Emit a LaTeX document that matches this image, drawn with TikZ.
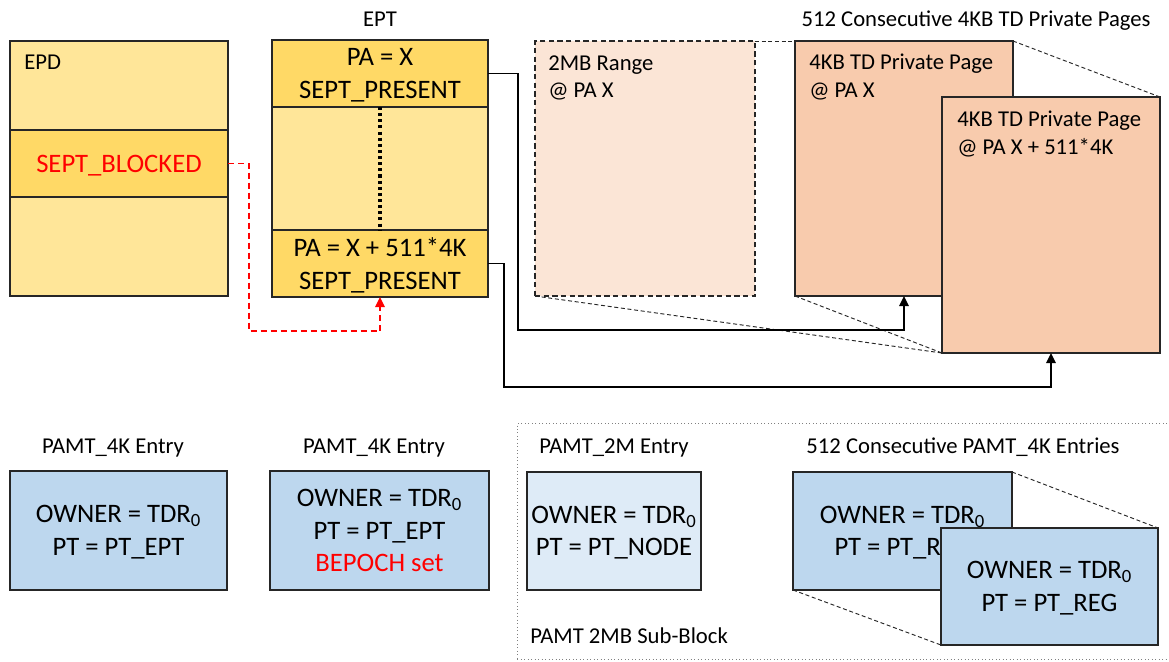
\documentclass[tikz,border=0pt]{standalone}
\usepackage{fontspec}
\setmainfont{Carlito}
\usetikzlibrary{arrows.meta}
\definecolor{ylight}{HTML}{FFE699}
\definecolor{ydark}{HTML}{FFD966}
\definecolor{pagec}{HTML}{F8CBAD}
\definecolor{rangec}{HTML}{FBE5D6}
\definecolor{bluec}{HTML}{BDD7EE}
\definecolor{bluel}{HTML}{DEEBF7}
\definecolor{edge}{HTML}{262626}
\tikzset{
  bx/.style={draw=edge, line width=1pt, inner sep=0pt, outer sep=0pt, anchor=north west},
  wh/.style 2 args={minimum width=#1*0.75pt, minimum height=#2*0.75pt},
  big/.style={font=\fontsize{20}{24.5}\selectfont, align=center, text depth=0pt},
  sm/.style={font=\fontsize{17}{20}\selectfont, inner sep=0pt},
  conn/.style={line width=1.4pt, -{Triangle[length=7.5pt,width=7pt]}},
  redconn/.style={line width=1.2pt, red, dash pattern=on 4.5pt off 3pt, -{Triangle[length=7.5pt,width=7pt]}},
  zl/.style={line width=0.7pt, dash pattern=on 3pt off 2pt, draw=edge},
  dotline/.style={line width=2.3pt, dash pattern=on 2.3pt off 2.3pt},
}
\begin{document}
\begin{tikzpicture}[x=0.75pt,y=-0.75pt]
\useasboundingbox[fill=white] (0,0) rectangle (1169,661);

% ---- EPD ----
\node[bx, fill=ylight, wh={218}{255}] (epd) at (10,41) {};
\node[bx, fill=ydark, wh={218}{67}, big, text=red] (blk) at (10,130) {SEPT\_BLOCKED};
\node[sm, anchor=base west] (epdl) at (24,69) {EPD};

% ---- EPT ----
\node[sm, anchor=base] (eptl) at (380,26) {EPT};
\node[bx, fill=ylight, wh={216}{257}] (ept) at (272,40) {};
\node[bx, fill=ydark, wh={216}{67}, big] (ept1) at (272,40) {PA = X\\SEPT\_PRESENT};
\node[bx, fill=ydark, wh={216}{67}, big] (ept2) at (272,230) {PA = X + 511*4K\\SEPT\_PRESENT};
\draw[dotline] (ept1.south) -- (ept2.north);

% ---- pages ----
\node[sm, anchor=base] (pgl) at (976,26) {512 Consecutive 4KB TD Private Pages};
\node[bx, fill=rangec, wh={220}{255}, dash pattern=on 4pt off 2.5pt] (rng) at (535,41) {};
\node[bx, fill=pagec, wh={218}{255}] (page1) at (795,41) {};
\draw[zl] (rng.north east) -- (page1.north west);
\node[sm, anchor=base west] (rt1) at (548,70) {2MB Range};
\node[sm, anchor=base west] (rt2) at (548,97) {@ PA X};
\node[sm, anchor=base west] (p1t1) at (809,69) {4KB TD Private Page};
\node[sm, anchor=base west] (p1t2) at (809,97) {@ PA X};
\node[bx, fill=pagec, wh={218}{256}] (page2) at (942,97) {};
\node[sm, anchor=base west] (p2t1) at (957,126) {4KB TD Private Page};
\node[sm, anchor=base west] (p2t2) at (957,154) {@ PA X + 511*4K};
\draw[zl] (page1.north east) -- (page2.north east);
\draw[zl] (page1.south west) -- (page2.south west);
\draw[zl] (rng.south west) -- (page2.south west);

% ---- connectors ----
\coordinate (j1) at (518,330);
\coordinate (j2) at (504,387);
\coordinate (j3) at (249,331);
\draw[conn] (ept1.east) -| (j1) -| (page1.south);
\draw[conn] (ept2.east) -| (j2) -| (page2.south);
\draw[redconn] (blk.east) -| (j3) -| (ept2.south);

% ---- PAMT ----
\node[sm, anchor=base] (la) at (113,453) {PAMT\_4K Entry};
\node[bx, fill=bluec, wh={217}{119}, big] (pa) at (10,471) {OWNER = TDR\textsubscript{0}\\PT = PT\_EPT};
\node[sm, anchor=base] (lb) at (374,453) {PAMT\_4K Entry};
\node[bx, fill=bluec, wh={219}{119}, big] (pb) at (270,471) {OWNER = TDR\textsubscript{0}\\PT = PT\_EPT\\\textcolor{red}{BEPOCH set}};

\node[anchor=north west, draw=gray, line width=0.6pt, dotted, inner sep=0pt, wh={654}{236}] (sub) at (517,423) {};
\node[sm, anchor=base west] (subl) at (530,643) {PAMT 2MB Sub-Block};
\node[sm, anchor=base] (lc) at (614,453) {PAMT\_2M Entry};
\node[bx, fill=bluel, wh={174}{118}, big] (pc) at (527,472) {OWNER = TDR\textsubscript{0}\\PT = PT\_NODE};
\node[sm, anchor=base] (ld) at (963,453) {512 Consecutive PAMT\_4K Entries};
\node[bx, fill=bluec, wh={219}{118}, big] (pd) at (793,472) {OWNER = TDR\textsubscript{0}\\PT = PT\_REG};
\node[bx, fill=bluec, wh={217}{117}, big] (pe) at (941,528) {OWNER = TDR\textsubscript{0}\\PT = PT\_REG};
\draw[zl] (pd.north east) -- (pe.north east);
\draw[zl] (pd.south west) -- (pe.south west);
\end{tikzpicture}
\end{document}
